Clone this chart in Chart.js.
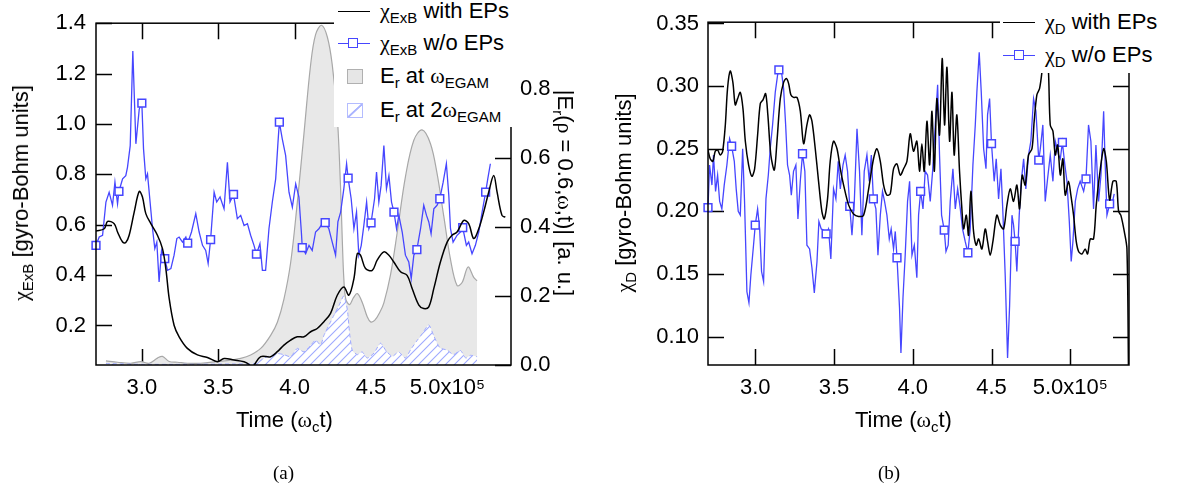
<!DOCTYPE html>
<html>
<head>
<meta charset="utf-8">
<script src="https://cdn.jsdelivr.net/npm/chart.js@4.4.0/dist/chart.umd.min.js"></script>
<style>
  body { margin: 0; background: #fff; width: 1181px; height: 498px; overflow: hidden; position: relative;
         font-family: "Liberation Sans", Arial, sans-serif; color: #000; }
  canvas { position: absolute; top: 0; }
  #cA { left: 0; }
  #cB { left: 590px; }
  .t { position: absolute; font-size: 22px; line-height: 22px; white-space: nowrap; }
  .g { font-family: "Liberation Serif", serif; }
  sub { font-size: 15px; vertical-align: -5px; line-height: 0; }
  .rl { transform: translate(-50%, -50%) rotate(-90deg); }
  .rr { transform: translate(-50%, -50%) rotate(90deg); }
  .box { position: absolute; background: #fff; }
  .ln { position: absolute; height: 0; }
  .mk { position: absolute; width: 8px; height: 8px; border: 1.5px solid #4646ff; background: #fff; }
  .cap { position: absolute; font-family: "Liberation Serif", serif; font-size: 19px; }
</style>
</head>
<body>
<canvas id="cA" width="590" height="498"></canvas>
<canvas id="cB" width="591" height="498"></canvas>

<!-- panel (a) legend -->
<div class="box" style="left:334px;top:0;width:182px;height:127px"></div>
<div class="ln" style="left:338px;top:11px;width:32px;border-top:1.5px solid #000"></div>
<div class="t" style="left:380px;top:0px"><span class="g">χ</span><sub>ExB</sub> with EPs</div>
<div class="ln" style="left:338px;top:43px;width:32px;border-top:1.5px solid #4646ff"></div>
<div class="mk" style="left:348px;top:38px"></div>
<div class="t" style="left:380px;top:32px"><span class="g">χ</span><sub>ExB</sub> w/o EPs</div>
<div style="position:absolute;left:347px;top:69px;width:14px;height:13px;background:#e6e6e6;border:1px solid #b0b0b0"></div>
<div class="t" style="left:380px;top:65px">E<sub>r</sub> at <span class="g">ω</span><sub>EGAM</sub></div>
<div style="position:absolute;left:347px;top:103px;width:14px;height:13px;border:1px solid #b4bcff;background:linear-gradient(to bottom right, transparent 44%, #aab4ff 48%, #aab4ff 54%, transparent 58%)"></div>
<div class="t" style="left:380px;top:99px">E<sub>r</sub> at 2<span class="g">ω</span><sub>EGAM</sub></div>

<!-- panel (b) legend -->
<div class="box" style="left:1000px;top:0;width:181px;height:73px"></div>
<div class="ln" style="left:1003px;top:22px;width:32px;border-top:1.5px solid #000"></div>
<div class="t" style="left:1045px;top:11px"><span class="g">χ</span><sub>D</sub> with EPs</div>
<div class="ln" style="left:1003px;top:55px;width:32px;border-top:1.5px solid #4646ff"></div>
<div class="mk" style="left:1014px;top:50px"></div>
<div class="t" style="left:1045px;top:44px"><span class="g">χ</span><sub>D</sub> w/o EPs</div>

<!-- axis titles -->
<div class="t rl" style="left:21px;top:193px"><span class="g">χ</span><sub>ExB</sub> [gyro-Bohm units]</div>
<div class="t rr" style="left:565px;top:193px">|E<sub>r</sub>(<span class="g">ρ</span> = 0.6,<span class="g">ω</span>,t)| [a. u.]</div>
<div class="t rl" style="left:624px;top:193px"><span class="g">χ</span><sub>D</sub> [gyro-Bohm units]</div>
<div class="t" style="left:236px;top:409px">Time (<span class="g">ω</span><sub>c</sub>t)</div>
<div class="t" style="left:855px;top:409px">Time (<span class="g">ω</span><sub>c</sub>t)</div>
<div class="cap" style="left:273px;top:462px">(a)</div>
<div class="cap" style="left:878px;top:462px">(b)</div>

<script>
// time axis in units of 1e5 (omega_c t)
const xTicks = [3.0, 3.5, 4.0, 4.5, 5.0];
const yTicksA = [0.2, 0.4, 0.6, 0.8, 1.0, 1.2, 1.4];
const y2TicksA = [0.0, 0.2, 0.4, 0.6, 0.8];
const yTicksB = [0.10, 0.15, 0.20, 0.25, 0.30, 0.35];
const markT = [2.70, 2.85, 3.00, 3.15, 3.30, 3.45, 3.60, 3.75, 3.90, 4.05, 4.20, 4.35, 4.50, 4.65, 4.80, 4.95, 5.10, 5.25];

// (a) chi_ExB with EPs
const tExbWith = [2.70, 2.754, 2.776, 2.819, 2.841, 2.874, 2.895, 2.917, 2.95, 2.983, 3.004, 3.026, 3.059, 3.102, 3.135,
  3.157, 3.179, 3.211, 3.244, 3.298, 3.364, 3.429, 3.495, 3.538, 3.603, 3.669, 3.702, 3.72, 3.734, 3.778, 3.843, 3.887,
  3.93, 3.974, 4.017, 4.061, 4.105, 4.148, 4.192, 4.235, 4.279, 4.322, 4.355, 4.388, 4.41, 4.431, 4.464, 4.508, 4.54,
  4.584, 4.617, 4.649, 4.693, 4.736, 4.769, 4.813, 4.845, 4.878, 4.911, 4.954, 4.998, 5.03, 5.063, 5.107, 5.139, 5.172,
  5.205, 5.237, 5.27, 5.303, 5.325, 5.357, 5.379];
const chiExbWith = [0.575, 0.584, 0.613, 0.604, 0.571, 0.531, 0.529, 0.558, 0.650, 0.732, 0.710, 0.644, 0.604, 0.558, 0.505,
  0.426, 0.307, 0.201, 0.155, 0.109, 0.083, 0.073, 0.056, 0.069, 0.063, 0.056, 0.045, 0.030, 0.042, 0.076, 0.076, 0.096,
  0.122, 0.142, 0.155, 0.155, 0.175, 0.188, 0.215, 0.248, 0.320, 0.353, 0.320, 0.386, 0.485, 0.479, 0.426, 0.419, 0.459,
  0.492, 0.479, 0.452, 0.413, 0.399, 0.347, 0.281, 0.267, 0.274, 0.347, 0.452, 0.531, 0.558, 0.571, 0.617, 0.604, 0.545,
  0.584, 0.650, 0.729, 0.795, 0.729, 0.637, 0.630];

// (a) chi_ExB w/o EPs
const tExbWo = [2.70, 2.721, 2.743, 2.765, 2.786, 2.808, 2.824, 2.841, 2.85, 2.874, 2.895, 2.906, 2.924, 2.941, 2.961,
  2.983, 3.00, 3.011, 3.026, 3.037, 3.054, 3.070, 3.085, 3.098, 3.113, 3.129, 3.15, 3.168, 3.190, 3.211, 3.229, 3.244,
  3.266, 3.288, 3.30, 3.325, 3.353, 3.375, 3.397, 3.418, 3.434, 3.45, 3.473, 3.490, 3.512, 3.538, 3.560, 3.577, 3.60,
  3.625, 3.647, 3.669, 3.691, 3.712, 3.734, 3.75, 3.773, 3.789, 3.810, 3.832, 3.854, 3.876, 3.891, 3.90, 3.919, 3.941,
  3.963, 3.985, 4.007, 4.028, 4.044, 4.05, 4.072, 4.094, 4.115, 4.137, 4.159, 4.181, 4.20, 4.224, 4.246, 4.268, 4.283,
  4.301, 4.322, 4.340, 4.35, 4.370, 4.388, 4.405, 4.420, 4.436, 4.453, 4.471, 4.486, 4.50, 4.523, 4.536, 4.551, 4.566,
  4.584, 4.601, 4.617, 4.634, 4.65, 4.667, 4.682, 4.704, 4.725, 4.747, 4.763, 4.780, 4.80, 4.824, 4.845, 4.863, 4.878,
  4.893, 4.911, 4.932, 4.95, 4.972, 4.993, 5.009, 5.020, 5.037, 5.063, 5.085, 5.10, 5.124, 5.139, 5.161, 5.183, 5.205,
  5.227, 5.25, 5.264, 5.281];
const chiExbWo = [0.518, 0.551, 0.558, 0.690, 0.729, 0.677, 0.769, 0.683, 0.732, 0.782, 0.795, 0.828, 0.914, 1.290, 0.921,
  1.059, 1.083, 0.901, 0.782, 0.802, 0.690, 0.584, 0.505, 0.531, 0.373, 0.498, 0.465, 0.419, 0.426, 0.479, 0.545, 0.551,
  0.531, 0.551, 0.527, 0.571, 0.644, 0.571, 0.518, 0.498, 0.446, 0.541, 0.729, 0.690, 0.710, 0.663, 0.848, 0.690, 0.720,
  0.624, 0.637, 0.597, 0.604, 0.558, 0.518, 0.483, 0.525, 0.419, 0.419, 0.584, 0.690, 0.782, 0.927, 1.007, 0.941, 0.875,
  0.729, 0.670, 0.762, 0.710, 0.571, 0.509, 0.485, 0.518, 0.498, 0.571, 0.584, 0.604, 0.608, 0.584, 0.531, 0.479, 0.611,
  0.650, 0.743, 0.842, 0.785, 0.703, 0.584, 0.650, 0.479, 0.518, 0.597, 0.690, 0.584, 0.607, 0.703, 0.809, 0.690, 0.756,
  0.914, 0.743, 0.795, 0.690, 0.650, 0.584, 0.637, 0.571, 0.479, 0.452, 0.386, 0.479, 0.501, 0.584, 0.677, 0.637, 0.611,
  0.564, 0.663, 0.677, 0.703, 0.769, 0.842, 0.716, 0.584, 0.531, 0.558, 0.571, 0.588, 0.518, 0.531, 0.485, 0.518, 0.571,
  0.650, 0.729, 0.782, 0.842];

// (a) |E_r| at omega_EGAM (right axis)
const tEr1 = [2.765, 2.841, 2.928, 2.993, 3.048, 3.102, 3.135, 3.179, 3.233, 3.298, 3.386, 3.495, 3.582, 3.647, 3.712,
  3.778, 3.843, 3.887, 3.930, 3.974, 4.017, 4.061, 4.105, 4.137, 4.176, 4.214, 4.246, 4.279, 4.30, 4.312, 4.322, 4.335,
  4.36, 4.385, 4.41, 4.442, 4.475, 4.497, 4.525, 4.56, 4.584, 4.627, 4.671, 4.725, 4.780, 4.834, 4.889, 4.932, 4.976,
  5.020, 5.063, 5.096, 5.135, 5.172, 5.194];
const er1 = [0.012, 0.008, 0.005, 0.010, 0.005, 0.020, 0.025, 0.010, 0.008, 0.005, 0.005, 0.010, 0.014, 0.019, 0.029,
  0.048, 0.086, 0.124, 0.191, 0.297, 0.469, 0.670, 0.871, 0.957, 0.984, 0.950, 0.870, 0.720, 0.520, 0.360, 0.250, 0.190,
  0.175, 0.195, 0.207, 0.182, 0.140, 0.125, 0.130, 0.155, 0.180, 0.260, 0.383, 0.545, 0.651, 0.681, 0.641, 0.555, 0.431,
  0.306, 0.230, 0.239, 0.284, 0.254, 0.244];

// (a) |E_r| at 2 omega_EGAM (right axis)
const tEr2 = [2.765, 3.0, 3.3, 3.6, 3.75, 3.80, 3.887, 3.93, 3.974, 4.017, 4.061, 4.105, 4.137, 4.17, 4.192, 4.224, 4.257,
  4.29, 4.322, 4.345, 4.36, 4.377, 4.41, 4.442, 4.475, 4.52, 4.562, 4.60, 4.64, 4.68, 4.725, 4.76, 4.80, 4.834, 4.878,
  4.91, 4.95, 4.998, 5.04, 5.085, 5.12, 5.15, 5.194];
const er2 = [0.004, 0.002, 0.002, 0.003, 0.005, 0.020, 0.033, 0.030, 0.024, 0.048, 0.038, 0.057, 0.072, 0.058, 0.086,
  0.115, 0.144, 0.172, 0.200, 0.160, 0.090, 0.043, 0.030, 0.038, 0.020, 0.035, 0.063, 0.040, 0.025, 0.038, 0.020, 0.045,
  0.070, 0.090, 0.116, 0.085, 0.050, 0.043, 0.030, 0.042, 0.020, 0.028, 0.024];

// (b) chi_D with EPs
const tDWith = [2.70, 2.714, 2.731, 2.746, 2.761, 2.778, 2.793, 2.810, 2.824, 2.841, 2.858, 2.873, 2.888, 2.905, 2.922,
  2.937, 2.958, 2.979, 2.996, 3.015, 3.032, 3.049, 3.066, 3.080, 3.099, 3.121, 3.138, 3.159, 3.180, 3.197, 3.212, 3.226,
  3.243, 3.265, 3.286, 3.307, 3.328, 3.345, 3.360, 3.381, 3.402, 3.423, 3.438, 3.459, 3.476, 3.497, 3.519, 3.540, 3.561,
  3.593, 3.624, 3.656, 3.688, 3.720, 3.751, 3.772, 3.794, 3.815, 3.836, 3.857, 3.878, 3.899, 3.921, 3.942, 3.963, 3.984,
  4.005, 4.026, 4.043, 4.058, 4.073, 4.090, 4.107, 4.122, 4.137, 4.153, 4.170, 4.187, 4.202, 4.217, 4.234, 4.249, 4.263,
  4.280, 4.297, 4.312, 4.323, 4.340, 4.354, 4.369, 4.386, 4.403, 4.418, 4.439, 4.460, 4.475, 4.492, 4.509, 4.534, 4.556,
  4.577, 4.598, 4.619, 4.640, 4.661, 4.678, 4.695, 4.714, 4.735, 4.757, 4.771, 4.788, 4.805, 4.820, 4.831, 4.848, 4.862,
  4.873, 4.890, 4.905, 4.920, 4.937, 4.953, 4.968, 4.989, 5.004, 5.021, 5.038, 5.053, 5.074, 5.095, 5.110, 5.127, 5.148,
  5.165, 5.186, 5.212, 5.229, 5.250, 5.271, 5.292, 5.307, 5.321, 5.343, 5.360, 5.370];
const chiDWith = [0.249, 0.242, 0.240, 0.248, 0.249, 0.245, 0.248, 0.269, 0.298, 0.312, 0.303, 0.285, 0.290, 0.295, 0.282,
  0.256, 0.237, 0.228, 0.234, 0.261, 0.286, 0.289, 0.294, 0.277, 0.245, 0.233, 0.256, 0.290, 0.303, 0.306, 0.302, 0.293,
  0.291, 0.291, 0.280, 0.254, 0.269, 0.277, 0.272, 0.250, 0.224, 0.200, 0.194, 0.210, 0.240, 0.256, 0.250, 0.234, 0.221,
  0.205, 0.198, 0.196, 0.197, 0.218, 0.242, 0.250, 0.240, 0.221, 0.213, 0.214, 0.234, 0.238, 0.229, 0.234, 0.240, 0.262,
  0.248, 0.256, 0.232, 0.254, 0.232, 0.272, 0.237, 0.280, 0.232, 0.290, 0.261, 0.322, 0.269, 0.315, 0.256, 0.295, 0.245,
  0.277, 0.232, 0.202, 0.186, 0.197, 0.181, 0.216, 0.184, 0.173, 0.178, 0.170, 0.186, 0.176, 0.165, 0.176, 0.197, 0.189,
  0.186, 0.205, 0.218, 0.208, 0.221, 0.202, 0.229, 0.221, 0.245, 0.250, 0.272, 0.293, 0.298, 0.311, 0.327, 0.335, 0.311,
  0.269, 0.264, 0.245, 0.253, 0.229, 0.242, 0.213, 0.224, 0.213, 0.197, 0.176, 0.168, 0.166, 0.170, 0.166, 0.178, 0.178,
  0.205, 0.229, 0.250, 0.240, 0.209, 0.224, 0.224, 0.200, 0.197, 0.184, 0.170, 0.070];

// (b) chi_D w/o EPs
const tDWo = [2.70, 2.710, 2.725, 2.735, 2.748, 2.761, 2.774, 2.788, 2.803, 2.820, 2.837, 2.85, 2.867, 2.879, 2.892,
  2.905, 2.920, 2.932, 2.947, 2.960, 2.972, 2.989, 3.00, 3.015, 3.028, 3.040, 3.053, 3.068, 3.083, 3.095, 3.110, 3.127,
  3.142, 3.15, 3.167, 3.180, 3.193, 3.205, 3.218, 3.229, 3.243, 3.258, 3.271, 3.286, 3.30, 3.315, 3.328, 3.345, 3.360,
  3.375, 3.392, 3.404, 3.419, 3.434, 3.45, 3.465, 3.480, 3.497, 3.512, 3.527, 3.540, 3.557, 3.571, 3.586, 3.60, 3.614,
  3.629, 3.646, 3.662, 3.677, 3.692, 3.709, 3.724, 3.737, 3.75, 3.766, 3.779, 3.794, 3.808, 3.821, 3.836, 3.851, 3.863,
  3.878, 3.889, 3.90, 3.916, 3.925, 3.938, 3.952, 3.967, 3.980, 3.995, 4.010, 4.026, 4.037, 4.05, 4.065, 4.079, 4.094,
  4.111, 4.126, 4.143, 4.158, 4.170, 4.183, 4.20, 4.211, 4.225, 4.238, 4.255, 4.270, 4.285, 4.302, 4.316, 4.333, 4.35,
  4.365, 4.382, 4.397, 4.407, 4.422, 4.435, 4.450, 4.465, 4.475, 4.488, 4.50, 4.517, 4.530, 4.545, 4.560, 4.572, 4.587,
  4.598, 4.602, 4.615, 4.630, 4.640, 4.65, 4.661, 4.676, 4.689, 4.704, 4.718, 4.735, 4.750, 4.767, 4.782, 4.80, 4.810,
  4.826, 4.841, 4.856, 4.873, 4.890, 4.905, 4.926, 4.937, 4.95, 4.966, 4.979, 4.994, 5.006, 5.017, 5.032, 5.047, 5.063,
  5.085, 5.10, 5.116, 5.131, 5.148, 5.163, 5.180, 5.195, 5.212, 5.222, 5.233, 5.243, 5.25, 5.269, 5.279];
const chiDWo = [0.203, 0.237, 0.221, 0.245, 0.216, 0.229, 0.208, 0.202, 0.221, 0.237, 0.258, 0.252, 0.240, 0.218, 0.200,
  0.197, 0.250, 0.208, 0.136, 0.127, 0.149, 0.173, 0.189, 0.202, 0.186, 0.152, 0.144, 0.210, 0.229, 0.250, 0.269, 0.295,
  0.309, 0.313, 0.311, 0.298, 0.269, 0.237, 0.229, 0.213, 0.232, 0.237, 0.194, 0.224, 0.246, 0.232, 0.173, 0.170, 0.155,
  0.135, 0.160, 0.192, 0.186, 0.185, 0.182, 0.186, 0.162, 0.218, 0.210, 0.240, 0.218, 0.237, 0.245, 0.232, 0.204, 0.181,
  0.208, 0.266, 0.232, 0.181, 0.232, 0.245, 0.224, 0.245, 0.210, 0.202, 0.165, 0.197, 0.216, 0.208, 0.197, 0.178, 0.186,
  0.170, 0.184, 0.163, 0.123, 0.087, 0.131, 0.165, 0.208, 0.224, 0.165, 0.173, 0.147, 0.197, 0.216, 0.202, 0.232, 0.229,
  0.208, 0.232, 0.269, 0.301, 0.245, 0.197, 0.185, 0.168, 0.173, 0.208, 0.234, 0.202, 0.218, 0.202, 0.186, 0.176, 0.167,
  0.186, 0.237, 0.269, 0.295, 0.327, 0.295, 0.250, 0.234, 0.277, 0.290, 0.254, 0.224, 0.242, 0.210, 0.234, 0.200, 0.149,
  0.101, 0.083, 0.125, 0.197, 0.189, 0.176, 0.152, 0.197, 0.224, 0.242, 0.218, 0.245, 0.256, 0.290, 0.280, 0.241, 0.250,
  0.269, 0.208, 0.226, 0.245, 0.224, 0.256, 0.245, 0.242, 0.255, 0.237, 0.224, 0.192, 0.160, 0.176, 0.208, 0.218, 0.224,
  0.216, 0.226, 0.269, 0.256, 0.202, 0.253, 0.208, 0.229, 0.280, 0.237, 0.197, 0.202, 0.206, 0.208, 0.214];

const BLUE = '#4646ff';
const pts = (t, v) => t.map((x, i) => ({ x, y: v[i] }));
const markR = ctx => markT.some(m => Math.abs(m - ctx.parsed.x) < 1e-6) ? 5.5 : 0;
const setTicks = list => s => { s.ticks = list.map(v => ({ value: v })); };

Chart.defaults.font.family = '"Liberation Sans", Arial, sans-serif';
Chart.defaults.font.size = 22;
Chart.defaults.color = '#000';

// inward ticks drawn under the data, frame drawn over it
const frame = {
  id: 'frame',
  beforeDatasetsDraw(chart, args, opts) {
    const { ctx, chartArea: a, scales } = chart;
    const L = 16;
    ctx.save();
    ctx.strokeStyle = '#000';
    ctx.lineWidth = 1.5;
    ctx.beginPath();
    scales.x.ticks.forEach(t => {
      const p = Math.round(scales.x.getPixelForValue(t.value)) + 0.5;
      ctx.moveTo(p, a.bottom); ctx.lineTo(p, a.bottom - L);
      ctx.moveTo(p, a.top); ctx.lineTo(p, a.top + L);
    });
    scales.y.ticks.forEach(t => {
      const p = Math.round(scales.y.getPixelForValue(t.value)) + 0.5;
      ctx.moveTo(a.left, p); ctx.lineTo(a.left + L, p);
      if (opts.mirror) { ctx.moveTo(a.right, p); ctx.lineTo(a.right - L, p); }
    });
    if (scales.y2) {
      scales.y2.ticks.forEach(t => {
        const p = Math.round(scales.y2.getPixelForValue(t.value)) + 0.5;
        ctx.moveTo(a.right, p); ctx.lineTo(a.right - L, p);
      });
    }
    ctx.stroke();
    ctx.restore();
  },
  afterDatasetsDraw(chart) {
    const { ctx, chartArea: a } = chart;
    ctx.save();
    ctx.strokeStyle = '#000';
    ctx.lineWidth = 1.5;
    ctx.strokeRect(a.left, a.top, a.right - a.left, a.bottom - a.top);
    ctx.restore();
  }
};

// light blue "/" hatching on white
function hatchPattern(ctx) {
  const c = document.createElement('canvas');
  c.width = 9; c.height = 9;
  const g = c.getContext('2d');
  g.fillStyle = '#ffffff';
  g.fillRect(0, 0, 9, 9);
  g.strokeStyle = '#9ea9ff';
  g.lineWidth = 1.1;
  g.beginPath();
  g.moveTo(0, 9); g.lineTo(9, 0);
  g.moveTo(-3, 3); g.lineTo(3, -3);
  g.moveTo(6, 12); g.lineTo(12, 6);
  g.stroke();
  return ctx.createPattern(c, 'repeat');
}

const xScale = (min, max) => ({
  type: 'linear', min, max,
  afterBuildTicks: setTicks(xTicks),
  afterFit: s => { s.height = 133; },
  grid: { display: false, drawTicks: false },
  border: { display: false },
  ticks: { padding: 10, maxRotation: 0, autoSkip: false,
    callback: v => v === 5 ? '5.0x10⁵' : v.toFixed(1) }
});

const ctxA = document.getElementById('cA').getContext('2d');
new Chart(ctxA, {
  type: 'line',
  data: {
    datasets: [
      { data: pts(tExbWith, chiExbWith), borderColor: '#000', borderWidth: 1.5, pointRadius: 0, tension: 0.35, yAxisID: 'y' },
      { data: pts(tExbWo, chiExbWo), borderColor: BLUE, borderWidth: 1.3, pointStyle: 'rect', pointRadius: markR,
        pointBackgroundColor: '#fff', pointBorderColor: BLUE, pointBorderWidth: 1.5, clip: false, yAxisID: 'y' },
      { data: pts(tEr2, er2), borderColor: '#9ea9ff', borderWidth: 1, borderDash: [4, 3], pointRadius: 0,
        backgroundColor: hatchPattern(ctxA), fill: 'origin', tension: 0.2, yAxisID: 'y2' },
      { data: pts(tEr1, er1), borderColor: '#a8a8a8', borderWidth: 1.2, pointRadius: 0,
        backgroundColor: '#e8e8e8', fill: 'origin', tension: 0.35, yAxisID: 'y2' }
    ]
  },
  options: {
    responsive: false, animation: false, events: [],
    layout: { padding: { top: 22, left: 0, right: 0, bottom: 0 } },
    plugins: { legend: { display: false }, tooltip: { enabled: false }, frame: { mirror: false } },
    scales: {
      x: xScale(2.70, 5.416),
      y: { type: 'linear', position: 'left', min: 0.043, max: 1.4,
        afterBuildTicks: setTicks(yTicksA), afterFit: s => { s.width = 96; },
        grid: { display: false, drawTicks: false }, border: { display: false },
        ticks: { padding: 10, callback: v => v.toFixed(1) } },
      y2: { type: 'linear', position: 'right', min: 0, max: 0.99,
        afterBuildTicks: setTicks(y2TicksA), afterFit: s => { s.width = 79; },
        grid: { display: false, drawTicks: false }, border: { display: false },
        ticks: { padding: 9, callback: v => v.toFixed(1) } }
    }
  },
  plugins: [frame]
});

new Chart(document.getElementById('cB'), {
  type: 'line',
  data: {
    datasets: [
      { data: pts(tDWith, chiDWith), borderColor: '#000', borderWidth: 1.5, pointRadius: 0, tension: 0.3 },
      { data: pts(tDWo, chiDWo), borderColor: BLUE, borderWidth: 1.3, pointStyle: 'rect', pointRadius: markR,
        pointBackgroundColor: '#fff', pointBorderColor: BLUE, pointBorderWidth: 1.5, clip: false }
    ]
  },
  options: {
    responsive: false, animation: false, events: [],
    layout: { padding: { top: 22, left: 0, right: 52, bottom: 0 } },
    plugins: { legend: { display: false }, tooltip: { enabled: false }, frame: { mirror: true } },
    scales: {
      x: xScale(2.70, 5.373),
      y: { type: 'linear', position: 'left', min: 0.0774, max: 0.351,
        afterBuildTicks: setTicks(yTicksB), afterFit: s => { s.width = 118; },
        grid: { display: false, drawTicks: false }, border: { display: false },
        ticks: { padding: 9, callback: v => v.toFixed(2) } }
    }
  },
  plugins: [frame]
});
</script>
</body>
</html>
